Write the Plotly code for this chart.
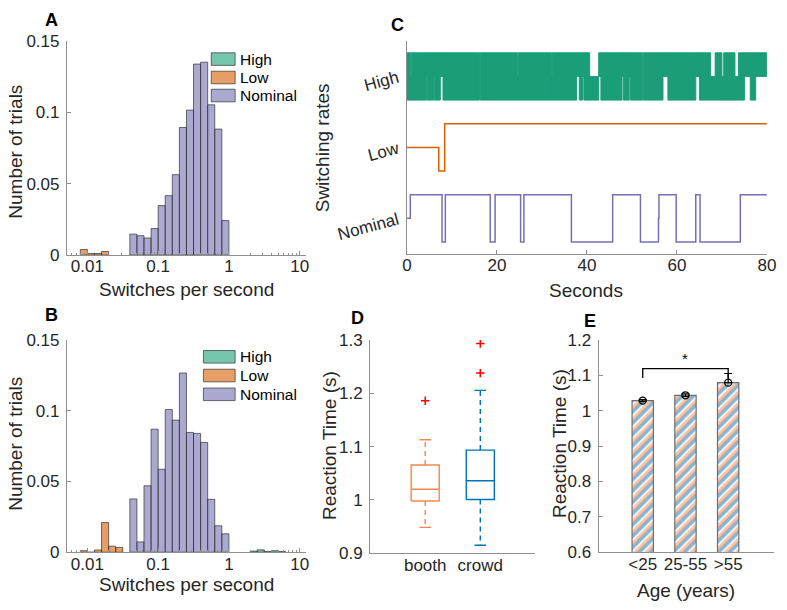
import numpy as np
import plotly.graph_objects as go

W, H = 787, 610
FONT = "Liberation Sans, Arial, Helvetica, sans-serif"
TXT = "#262626"
AXC = "#8f8f8f"

# ---------------- data: histograms A and B (bins of 0.1 decade) ----------------
BIN_W = 0.1
rate_classes = ["High", "Low", "Nominal"]
A_high_first_edge, A_high = 0.3, []
A_low_first_edge, A_low = -2.1, [0.0039, 0.0011, 0.0011, 0.0025]
A_nom_first_edge = -1.4
A_nom = [0.0147, 0.0136, 0.0120, 0.0186, 0.0347, 0.0417, 0.0564,
         0.0895, 0.1017, 0.1340, 0.1353, 0.1054, 0.0884, 0.0242]
B_high_first_edge, B_high = 0.3, [0.0008, 0.0017, 0.0006, 0.0011, 0.0005]
B_low_first_edge, B_low = -2.1, [0.0011, 0.0, 0.0016, 0.0210, 0.0043, 0.0034]
B_nom_first_edge = -1.4
B_nom = [0.0377, 0.0073, 0.0470, 0.0870, 0.0587, 0.1009, 0.0934,
         0.1267, 0.0847, 0.0840, 0.0776, 0.0374, 0.0187, 0.0130]
hist_xticks = [-2, -1, 0, 1]
hist_xticklabels = ["0.01", "0.1", "1", "10"]
hist_yticks = [0, 0.05, 0.1, 0.15]
hist_yticklabels = ["0", "0.05", "0.1", "0.15"]

# ---------------- data: C switching traces ----------------
nominal_t = [0, 0.73, 7.79, 8.52, 18.49, 19.58, 25.25, 25.98, 36.54, 45.71,
             51.89, 55.9, 56.0, 59.83, 64.19, 65.14, 74.09, 80]
nominal_state = [2, 3, 1, 3, 1, 3, 1, 3, 1, 3, 1, 2, 3, 1, 3, 1, 3, 3]
low_t = [0, 7.06, 8.37, 80]
low_state = [5, 4, 6, 6]
# High: fast flicker, given as blocks (t0, t1, lowest state, highest state)
high_t0 = [0.0, 0.85, 0.95, 4.3, 4.45, 5.9, 6.05, 7.4, 8.0, 16.25, 24.6, 24.75, 32.1, 32.25,
           37.7, 38.3, 39.0, 39.3, 40.6, 42.6, 43.1, 47.8, 48.1, 49.4, 49.7, 52.55, 56.9,
           58.0, 64.2, 65.0, 67.5, 68.5, 70.0, 70.4, 72.9, 73.7, 75.0, 76.3, 77.5]
high_t1 = [0.85, 0.95, 4.3, 4.45, 5.9, 6.05, 7.4, 8.0, 16.1, 24.6, 24.75, 32.1, 32.25, 37.7,
           38.3, 39.0, 39.3, 40.6, 42.6, 43.1, 47.8, 48.1, 49.4, 49.7, 52.4, 56.9, 58.0,
           64.2, 65.0, 67.5, 68.5, 70.0, 70.4, 72.9, 73.7, 75.0, 76.3, 77.5, 80.0]
high_lo = [7, 7, 7, 8, 7, 8, 7, 8, 7, 7, 7, 7, 7, 7,
           8, 7, 8, 7, 7, 8, 7, 8, 7, 8, 7, 7, 8,
           7, 8, 7, 7, 7, 7, 7, 7, 7, 8, 7, 8]
high_hi = [9, 8, 9, 9, 9, 9, 9, 9, 9, 9, 8, 9, 8, 9,
           9, 9, 9, 9, 8, 9, 9, 9, 9, 9, 9, 9, 9,
           9, 9, 9, 8, 9, 8, 9, 8, 9, 9, 9, 9]
c_state_ticks = [2, 5, 8]
c_state_labels = ["Nominal", "Low", "High"]
c_xticks = [0, 20, 40, 60, 80]

# ---------------- data: D boxplots ----------------
box_groups = ["booth", "crowd"]
box_q1 = [0.998, 1.0007]
box_med = [1.020, 1.036]
box_q3 = [1.0655, 1.0935]
box_wlo = [0.9485, 0.915]
box_whi = [1.113, 1.2055]
box_outliers = [[1.186], [1.238, 1.2935]]
d_yticks = [0.9, 1.0, 1.1, 1.2, 1.3]
d_yticklabels = ["0.9", "1", "1.1", "1.2", "1.3"]

# ---------------- data: E bars ----------------
age_groups = ["&lt;25", "25-55", "&gt;55"]
rt_mean = [1.0288, 1.0438, 1.0795]
rt_err_plus = [0.003, 0.004, 0.026]
rt_err_minus = [0.003, 0.004, 0.0]
sig_pair = [1, 3]
sig_top = 1.119
sig_leg = 1.093
e_yticks = [0.6, 0.7, 0.8, 0.9, 1.0, 1.1, 1.2]
e_yticklabels = ["0.6", "0.7", "0.8", "0.9", "1", "1.1", "1.2"]

# ---------------- colours ----------------
GREEN, ORANGE, PURPLE = "#1B9E77", "#D95F02", "#7570B3"
def rgba(h, a):
    h = h.lstrip("#")
    return "rgba(%d,%d,%d,%.2f)" % (int(h[0:2], 16), int(h[2:4], 16), int(h[4:6], 16), a)
BOOTH_C, CROWD_C = "#F4874F", "#0072BD"
HIST_EDGE = "rgba(45,45,45,0.85)"

# ---------------- layout geometry (pixels) ----------------
def fx(p): return p / W
def fy(p): return 1 - p / H

fig = go.Figure()

def hist_bars(first_edge, heights, color, xa, ya):
    if not heights:
        return
    centers = [first_edge + BIN_W * (i + 0.5) for i in range(len(heights))]
    fig.add_trace(go.Bar(x=centers, y=heights, width=BIN_W, xaxis=xa, yaxis=ya,
                         marker=dict(color=rgba(color, 0.6), line=dict(color=HIST_EDGE, width=0.8)),
                         showlegend=False, hoverinfo="skip"))

for xa, ya, hi_e, hi, lo_e, lo, no_e, no in [
        ("x", "y", A_high_first_edge, A_high, A_low_first_edge, A_low, A_nom_first_edge, A_nom),
        ("x2", "y2", B_high_first_edge, B_high, B_low_first_edge, B_low, B_nom_first_edge, B_nom)]:
    hist_bars(hi_e, hi, GREEN, xa, ya)
    hist_bars(lo_e, lo, ORANGE, xa, ya)
    hist_bars(no_e, no, PURPLE, xa, ya)

# ---- C ----
hx, hy = [], []
for t0, t1, lo, hi in zip(high_t0, high_t1, high_lo, high_hi):
    hx += [t0, t1, t1, t0, t0, None]
    hy += [lo, lo, hi, hi, lo, None]
fig.add_trace(go.Scatter(x=hx, y=hy, fill="toself", fillcolor=GREEN, mode="lines",
                         line=dict(color=GREEN, width=1), xaxis="x3", yaxis="y3",
                         showlegend=False, hoverinfo="skip"))
fig.add_trace(go.Scatter(x=low_t, y=low_state, mode="lines", line=dict(color=ORANGE, width=1.5, shape="hv"),
                         xaxis="x3", yaxis="y3", showlegend=False, hoverinfo="skip"))
fig.add_trace(go.Scatter(x=nominal_t, y=nominal_state, mode="lines", line=dict(color=PURPLE, width=1.5, shape="hv"),
                         xaxis="x3", yaxis="y3", showlegend=False, hoverinfo="skip"))

# ---- D ----
BOX_HW, CAP_HW = 0.255, 0.105
for i, g in enumerate(box_groups):
    p = i + 1
    c = BOOTH_C if i == 0 else CROWD_C
    kw = dict(xaxis="x4", yaxis="y4", showlegend=False, hoverinfo="skip", mode="lines")
    fig.add_trace(go.Scatter(x=[p - BOX_HW, p + BOX_HW, p + BOX_HW, p - BOX_HW, p - BOX_HW],
                             y=[box_q1[i], box_q1[i], box_q3[i], box_q3[i], box_q1[i]],
                             line=dict(color=c, width=1.4), **kw))
    fig.add_trace(go.Scatter(x=[p - BOX_HW, p + BOX_HW], y=[box_med[i]] * 2, line=dict(color=c, width=1.4), **kw))
    fig.add_trace(go.Scatter(x=[p, p, None, p, p], y=[box_q3[i], box_whi[i], None, box_q1[i], box_wlo[i]],
                             line=dict(color=c, width=1.4, dash="5px,4px"), **kw))
    fig.add_trace(go.Scatter(x=[p - CAP_HW, p + CAP_HW, None, p - CAP_HW, p + CAP_HW],
                             y=[box_whi[i], box_whi[i], None, box_wlo[i], box_wlo[i]],
                             line=dict(color=c, width=1.4), **kw))
    fig.add_trace(go.Scatter(x=[p] * len(box_outliers[i]), y=box_outliers[i], mode="markers",
                             marker=dict(symbol="cross-thin", size=6, line=dict(color="#FF0000", width=1.5)),
                             xaxis="x4", yaxis="y4", showlegend=False, hoverinfo="skip"))

# ---- E ----
e_pos = [1, 2, 3]
PAT = 8
fig.add_trace(go.Bar(x=e_pos, y=rt_mean, width=0.5, xaxis="x5", yaxis="y5",
                     marker=dict(color="white", line=dict(width=0),
                                 pattern=dict(shape="/", fgcolor=CROWD_C, bgcolor="white", size=PAT, solidity=0.45)),
                     showlegend=False, hoverinfo="skip"))
fig.add_trace(go.Bar(x=e_pos, y=rt_mean, width=0.5, xaxis="x6", yaxis="y6",
                     marker=dict(color="rgba(0,0,0,0)", line=dict(color="#6e6e6e", width=1.2),
                                 pattern=dict(shape="/", fgcolor=BOOTH_C, bgcolor="rgba(0,0,0,0)", size=PAT, solidity=0.45)),
                     showlegend=False, hoverinfo="skip"))
fig.add_trace(go.Scatter(x=e_pos, y=rt_mean, mode="markers", xaxis="x6", yaxis="y6",
                         marker=dict(symbol="circle-open", size=7, color="black", line=dict(width=1.3)),
                         error_y=dict(type="data", array=rt_err_plus, arrayminus=rt_err_minus,
                                      color="black", thickness=1.2, width=4),
                         showlegend=False, hoverinfo="skip"))
fig.add_trace(go.Scatter(x=[sig_pair[0], sig_pair[0], sig_pair[1], sig_pair[1]],
                         y=[sig_leg, sig_top, sig_top, sig_leg], mode="lines",
                         line=dict(color="black", width=1.3), xaxis="x6", yaxis="y6",
                         showlegend=False, hoverinfo="skip"))
fig.add_annotation(x=(sig_pair[0] + sig_pair[1]) / 2, y=sig_top, xref="x6", yref="y6", text="*",
                   showarrow=False, yanchor="bottom", yshift=0, font=dict(size=15, color="black", family=FONT))

# ---------------- axes ----------------
def axis(**kw):
    d = dict(showline=True, linecolor=AXC, linewidth=1, ticks="inside", ticklen=4, tickcolor=AXC,
             tickwidth=1, showgrid=False, zeroline=False, tickfont=dict(size=17, color=TXT, family=FONT),
             fixedrange=True, ticklabelstandoff=3)
    d.update(kw)
    return d

minor_vals = [float(np.log10(k * 10.0 ** e)) for e in range(-3, 2) for k in range(2, 10)]
minor_vals = [v for v in minor_vals if -2.29 < v < 1.09]

A_dom_x = [fx(63), fx(306.7)]
ppu_e = 43.5
E_L, E_R = 604.3, 783.0
e_r0 = -0.034
e_r1 = e_r0 + (E_R - E_L) / ppu_e
SHIFT = PAT / 2.0
XSO = -4  # x tick label standoff

layout_axes = dict(
    xaxis=axis(domain=A_dom_x, range=[-2.29, 1.093], anchor="y", tickvals=hist_xticks, ticktext=hist_xticklabels,
               ticklabelstandoff=XSO, minor=dict(tickvals=minor_vals, ticks="inside", ticklen=2, tickcolor=AXC)),
    yaxis=axis(domain=[fy(254), fy(33.3)], range=[0, 0.15], anchor="x", tickvals=hist_yticks, ticktext=hist_yticklabels),
    xaxis2=axis(domain=A_dom_x, range=[-2.29, 1.093], anchor="y2", tickvals=hist_xticks, ticktext=hist_xticklabels,
                ticklabelstandoff=XSO, minor=dict(tickvals=minor_vals, ticks="inside", ticklen=2, tickcolor=AXC)),
    yaxis2=axis(domain=[fy(560.7), fy(341.7)], range=[0, 0.15], anchor="x2", tickvals=hist_yticks, ticktext=hist_yticklabels),
    xaxis3=axis(domain=[fx(409.3), fx(775.7)], range=[0, 80], anchor="y3", tickvals=c_xticks, ticklabelstandoff=XSO),
    yaxis3=axis(domain=[fy(252.7), fy(33)], range=[0.5, 9.5], anchor="x3", tickvals=c_state_ticks,
                ticktext=c_state_labels, ticks="", tickangle=-15, ticklabelstandoff=5),
    xaxis4=axis(domain=[fx(371.7), fx(540)], range=[0, 3], anchor="y4", tickvals=[1, 2], ticktext=box_groups,
                ticks="", ticklabelstandoff=XSO),
    yaxis4=axis(domain=[fy(561.7), fy(341.7)], range=[0.9, 1.3], anchor="x4", tickvals=d_yticks, ticktext=d_yticklabels),
    xaxis5=dict(domain=[fx(E_L + SHIFT), fx(E_R + SHIFT)], range=[e_r0 + SHIFT / ppu_e, e_r1 + SHIFT / ppu_e],
                anchor="y5", visible=False, fixedrange=True),
    yaxis5=dict(domain=[fy(560.7), fy(341.7)], range=[0.6, 1.2], anchor="x5", visible=False, fixedrange=True),
    xaxis6=axis(domain=[fx(E_L), fx(E_R)], range=[e_r0, e_r1], anchor="y6", tickvals=e_pos, ticktext=age_groups,
                ticks="", ticklabelstandoff=XSO),
    yaxis6=axis(domain=[fy(560.7), fy(341.7)], range=[0.6, 1.2], anchor="x6", tickvals=e_yticks, ticktext=e_yticklabels),
)

fig.update_layout(width=W, height=H, margin=dict(l=0, r=0, t=0, b=0), autosize=False,
                  paper_bgcolor="white", plot_bgcolor="rgba(0,0,0,0)", barmode="overlay", bargap=0,
                  font=dict(family=FONT, color=TXT), **layout_axes)

# ---------------- text: axis titles, panel letters ----------------
def label(text, cx, cy, size=19, angle=0, bold=False, color=TXT):
    fig.add_annotation(text=("<b>%s</b>" % text) if bold else text, x=fx(cx), y=fy(cy), xref="paper", yref="paper",
                       showarrow=False, textangle=angle, xanchor="center", yanchor="middle",
                       font=dict(size=size, color=color, family=FONT))

label("Number of trials", 10.5, 147, angle=-90)
label("Switches per second", 185, 290)
label("Number of trials", 10.5, 448.5, angle=-90)
label("Switches per second", 185, 594)
label("Switching rates", 323, 143.5, angle=-90)
label("Seconds", 592, 291)
label("Reaction Time (s)", 331, 451, angle=-90)
label("Reaction Time (s)", 564, 448, angle=-90)
label("Age (years)", 693, 600)
for letter, cx, cy in [("A", 47, 11), ("B", 47, 316), ("C", 400, 16), ("D", 358.5, 319), ("E", 596, 322)]:
    label(letter, cx, cy, size=18, bold=True, color="black")

# ---------------- legends for A and B ----------------
legend_colors = [GREEN, ORANGE, PURPLE]
for rows, x0 in [([51.7, 70.7, 89.3], 210), ([359, 378.3, 397.7], 202)]:
    for name, col, yc in zip(rate_classes, legend_colors, rows):
        fig.add_shape(type="rect", xref="paper", yref="paper", x0=fx(x0), x1=fx(234.3),
                      y0=fy(yc + 6.5), y1=fy(yc - 6.5), fillcolor=rgba(col, 0.6),
                      line=dict(color=HIST_EDGE, width=0.8))
        fig.add_annotation(text=name, x=fx(237.5), y=fy(yc), xref="paper", yref="paper", showarrow=False,
                           xanchor="left", yanchor="middle", font=dict(size=15.5, color="black", family=FONT))

fig.write_html("out.html", config={"displayModeBar": False, "staticPlot": True},
               post_script="document.documentElement.style.margin='0';document.body.style.margin='0';"
                           "document.body.style.padding='0';document.body.style.overflow='hidden';")
